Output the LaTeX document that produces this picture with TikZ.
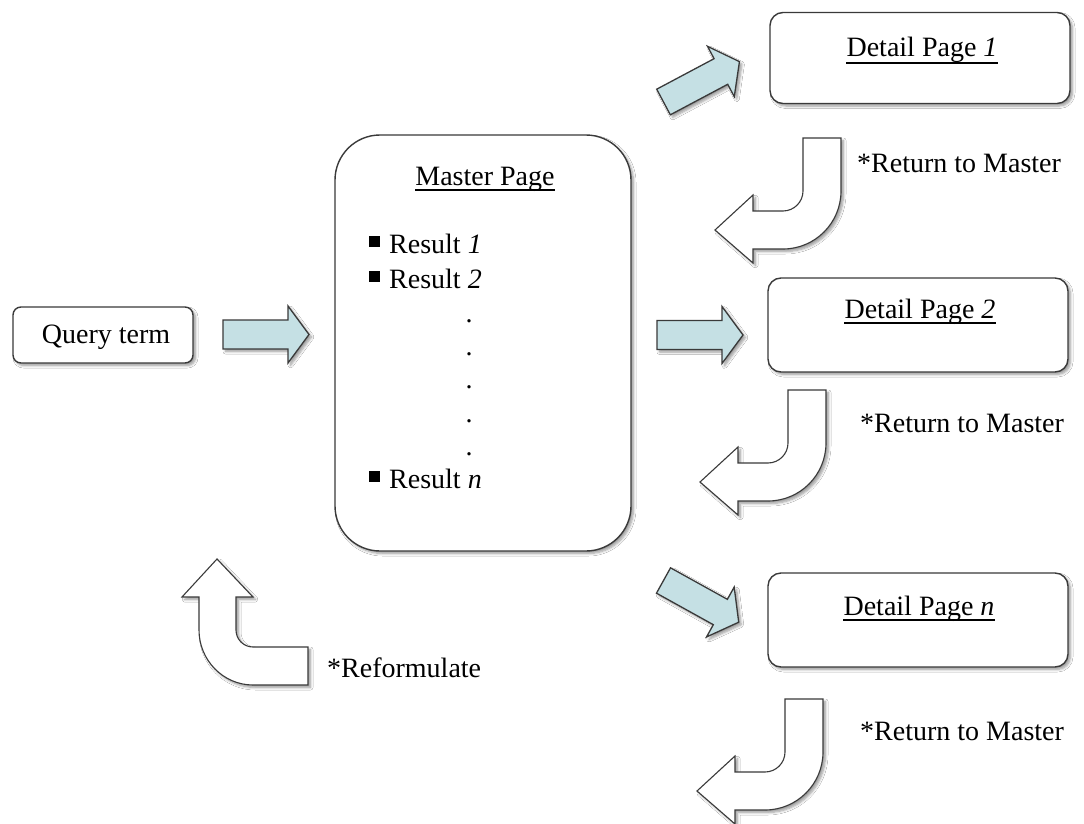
\documentclass[tikz,border=0pt]{standalone}
\usepackage{fontspec}
\setmainfont{Liberation Serif}
\usetikzlibrary{shadows.blur}

\definecolor{arrowblue}{HTML}{C5E0E4}
\definecolor{edgegray}{HTML}{3A3A3A}

\tikzset{
  softshadow/.style={blur shadow={shadow xshift=2.5pt, shadow yshift=-2.5pt,
      shadow blur steps=6, shadow blur radius=2.5pt, shadow opacity=40}},
  pagebox/.style={draw=edgegray, line width=1.4pt, fill=white,
      rounded corners=#1, softshadow, inner sep=0pt},
  txt/.style={inner sep=0pt, font=\fontsize{28}{32}\selectfont},
  uline/.style={draw=black, line width=1.1pt},
  bluearrow/.style={draw=edgegray, line width=1.3pt, fill=arrowblue,
      line join=miter, softshadow},
  whitearrow/.style={draw=edgegray, line width=1.1pt, fill=white,
      line join=miter, softshadow},
  % straight block arrow, tail centre at the origin, pointing along +x
  blockarrow/.pic={
    \draw[bluearrow] (0,-14.5) -- (65,-14.5) -- (65,-28.5) -- (86,0)
      -- (65,28.5) -- (65,14.5) -- (0,14.5) -- cycle;
  },
  % bent arrow: comes down, turns and points left
  returnarrow/.pic={
    \draw[whitearrow] (0,0) -- (38,0) -- (38,53)
      .. controls (38,85) and (12,111) .. (-20,111)
      -- (-50,111) -- (-50,125) -- (-88,92) -- (-50,57) -- (-50,73)
      -- (-20,73) .. controls (-9,73) and (0,64) .. (0,53) -- cycle;
  },
}

\begin{document}
\begin{tikzpicture}[x=1pt, y=-1pt]
  \useasboundingbox (0,0) rectangle (1084,824);
  \fill[white] (0,0) rectangle (1084,824);

  % boxes
  \node[pagebox=8pt, minimum width=180pt, minimum height=56pt] (query) at (103,335) {};
  \node[pagebox=45pt, minimum width=296pt, minimum height=416pt] (master) at (483,343) {};
  \node[pagebox=13pt, minimum width=300pt, minimum height=91pt] (detail1) at (920,58) {};
  \node[pagebox=13pt, minimum width=300pt, minimum height=94pt] (detail2) at (918,325) {};
  \node[pagebox=13pt, minimum width=300pt, minimum height=94pt] (detailn) at (918,620) {};

  % query term
  \node[txt, anchor=base] (qtxt) at (106,343) {Query term};

  % master page contents
  \node[txt, anchor=base] (mtitle) at (485,185) {Master Page};
  \draw[uline] ([yshift=-5pt]mtitle.base west) -- ([yshift=-5pt]mtitle.base east);
  \node[txt, anchor=base west] (res1) at (369,253)
    {\raisebox{6pt}{\rule{11pt}{11pt}}\hspace{9pt}Result \textit{1}};
  \node[txt, anchor=base west] (res2) at (369,288)
    {\raisebox{6pt}{\rule{11pt}{11pt}}\hspace{9pt}Result \textit{2}};
  \node[txt, anchor=base west] (resn) at (369,488)
    {\raisebox{6pt}{\rule{11pt}{11pt}}\hspace{9pt}Result \textit{n}};
  \foreach \i/\y in {1/322, 2/355, 3/388, 4/422, 5/455}
    \node[txt, anchor=base] (dot\i) at (469,\y) {.};

  % detail page titles
  \node[txt, anchor=base] (t1) at (922,57) {Detail Page \textit{1}};
  \draw[uline] ([yshift=-6pt]t1.base west) -- ([yshift=-6pt]t1.base east);
  \node[txt, anchor=base] (t2) at (920,318) {Detail Page \textit{2}};
  \draw[uline] ([yshift=-5pt]t2.base west) -- ([yshift=-5pt]t2.base east);
  \node[txt, anchor=base] (tn) at (919,615) {Detail Page \textit{n}};
  \draw[uline] ([yshift=-5pt]tn.base west) -- ([yshift=-5pt]tn.base east);

  % forward block arrows
  \pic at (223,334.5) {blockarrow};
  \pic at (657,335) {blockarrow};
  \pic[rotate=28] at (663.5,102) {blockarrow};
  \pic[rotate=-29] at (663.5,580.5) {blockarrow};

  % return arrows and their labels
  \pic at (803,138) {returnarrow};
  \pic at (788,390) {returnarrow};
  \pic at (785,699) {returnarrow};
  \node[txt, anchor=base west] (ret1) at (857,172) {*Return to Master};
  \node[txt, anchor=base west] (ret2) at (860,432) {*Return to Master};
  \node[txt, anchor=base west] (retn) at (860,740) {*Return to Master};

  % reformulate arrow
  \draw[whitearrow] (308,647) -- (308,685) -- (253,685)
    .. controls (223,685) and (199,660) .. (199,630) -- (199,597)
    -- (182,597) -- (217,559) -- (253,597) -- (236,597) -- (236,630)
    .. controls (236,639.4) and (243.6,647) .. (253,647) -- cycle;
  \node[txt, anchor=base west] (reform) at (327,677) {*Reformulate};
\end{tikzpicture}
\end{document}
